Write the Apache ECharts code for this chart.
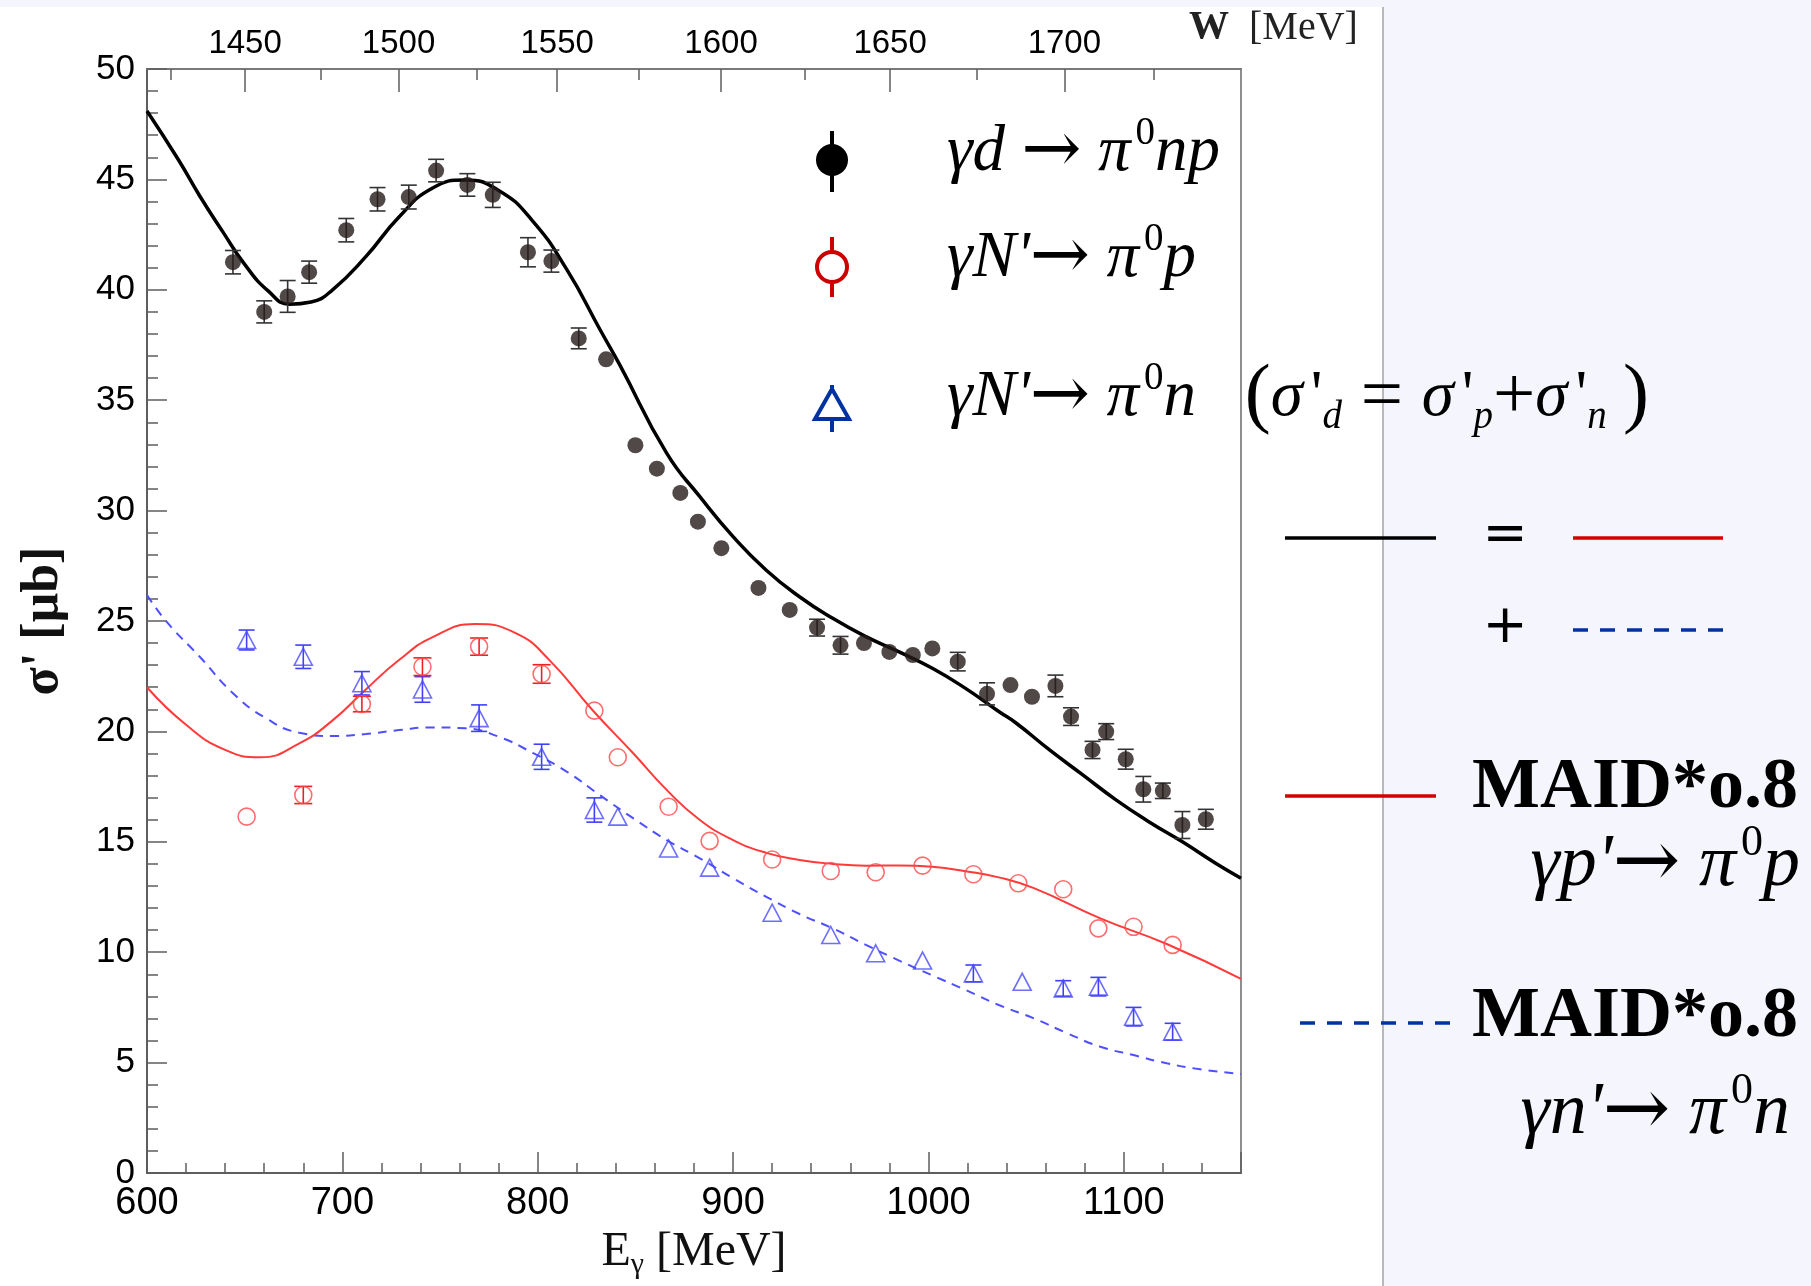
<!DOCTYPE html>
<html>
<head>
<meta charset="utf-8">
<script src="https://cdn.jsdelivr.net/npm/echarts@6/dist/echarts.min.js"></script>
<style>
html, body { margin: 0; padding: 0; background: #fff; }
#view { width: 1811px; height: 1286px; }
</style>
</head>
<body>
<div id="view"></div>
<script>
var myChart = echarts.init(document.getElementById('view'));

// gamma d -> pi0 n p  (black dots)
var egD = [644, 660, 672, 683, 702, 718, 734, 748, 764, 777,
           795, 807, 821, 835, 850, 861, 873, 882, 894, 913,
           929, 943, 955, 967, 980, 992, 1002, 1015, 1030, 1042,
           1053, 1065, 1073, 1084, 1091, 1101, 1110, 1120, 1130, 1142];
var sigD = [41.25, 39.0, 39.7, 40.8, 42.7, 44.1, 44.2, 45.4, 44.75, 44.3,
            41.7, 41.3, 37.8, 36.85, 32.96, 31.9, 30.8, 29.5, 28.3, 26.5,
            25.5, 24.7, 23.9, 24.0, 23.6, 23.46, 23.76, 23.16, 21.7, 22.1,
            21.57, 22.06, 20.67, 19.16, 19.99, 18.74, 17.38, 17.31, 15.76, 16.02];
var errD = [0.53, 0.5, 0.72, 0.5, 0.53, 0.53, 0.54, 0.51, 0.51, 0.57,
            0.66, 0.5, 0.47, 0, 0, 0, 0, 0, 0, 0,
            0, 0.38, 0.4, 0, 0, 0, 0, 0.42, 0.5, 0,
            0, 0.49, 0.4, 0.39, 0.36, 0.45, 0.58, 0.35, 0.61, 0.45];

// gamma N' -> pi0 p  (red open circles)
var egP = [651, 680, 710, 741, 770, 802, 829, 841, 867, 888,
           920, 950, 973, 997, 1023, 1046, 1069, 1087, 1105, 1125];
var sigP = [16.14, 17.12, 21.24, 22.93, 23.84, 22.6, 20.94, 18.83, 16.59, 15.04,
            14.2, 13.68, 13.62, 13.92, 13.53, 13.12, 12.85, 11.08, 11.15, 10.33];
var errP = [0, 0.39, 0.35, 0.4, 0.39, 0.42, 0, 0, 0, 0,
            0, 0, 0, 0, 0, 0, 0, 0, 0, 0];

// gamma N' -> pi0 n  (blue open triangles)
var egN = [651, 680, 710, 741, 770, 802, 829, 841, 867, 888,
           920, 950, 973, 997, 1023, 1048, 1069, 1087, 1105, 1125];
var sigN = [24.14, 23.38, 22.18, 21.9, 20.6, 18.85, 16.44, 16.14, 14.7, 13.83,
            11.79, 10.78, 9.95, 9.62, 9.04, 8.66, 8.36, 8.44, 7.08, 6.4];
var errN = [0.45, 0.53, 0.53, 0.58, 0.6, 0.57, 0.55, 0, 0, 0,
            0, 0, 0, 0, 0.38, 0, 0.35, 0.42, 0.42, 0.38];

// MAID*0.8 curves
var egMaidD = [600, 616, 627, 639, 650, 662, 673, 684, 695, 712,
               729, 746, 763, 780, 797, 815, 832, 842, 866, 883,
               900, 917, 934, 951, 968, 985, 1002, 1019, 1036, 1045,
               1062, 1079, 1096, 1113, 1130, 1147, 1160];
var maidD = [48.1, 45.9, 44.25, 42.6, 41.15, 39.95, 39.35, 39.45, 40.0, 41.5,
             43.3, 44.6, 44.97, 44.5, 43.16, 40.9, 38.18, 36.6, 32.6, 30.63,
             28.82, 27.3, 26.1, 25.12, 24.29, 23.6, 22.86, 21.95, 20.9, 20.37,
             19.16, 18.03, 16.9, 15.9, 15.0, 14.03, 13.35];
var egMaidP = [600, 620, 640, 658, 678, 695, 712, 729, 746, 768,
               789, 806, 828, 849, 866, 883, 900, 917, 934, 951,
               968, 985, 1002, 1019, 1036, 1054, 1088, 1122, 1160];
var maidP = [22.0, 20.3, 19.16, 18.83, 19.46, 20.5, 21.9, 23.23, 24.26, 24.86,
             24.44, 23.23, 20.97, 19.0, 17.35, 15.99, 15.08, 14.5, 14.18, 14.0,
             13.92, 13.93, 13.87, 13.67, 13.39, 12.9, 11.53, 10.37, 8.79];
var egMaidN = [600, 610, 627, 644, 661, 678, 695, 712, 729, 746,
               763, 780, 798, 815, 832, 849, 866, 883, 900, 917,
               934, 951, 968, 985, 1002, 1019, 1036, 1054, 1071, 1088,
               1105, 1122, 1139, 1160];
var maidN = [26.18, 24.97, 23.38, 21.73, 20.59, 19.94, 19.79, 19.88, 20.06, 20.18,
             20.14, 19.76, 19.0, 18.17, 17.1, 16.06, 15.08, 14.25, 13.35, 12.51,
             11.73, 11.08, 10.33, 9.62, 8.95, 8.29, 7.61, 7.0, 6.33, 5.72,
             5.34, 4.97, 4.7, 4.48];

// top axis, W [MeV]
var wMajor = [1450, 1500, 1550, 1600, 1650, 1700];
var wMinor = [1425, 1475, 1525, 1575, 1625, 1675, 1725];
var mN = 938.9;
function wToE(w) { return (w * w - mN * mN) / (2 * mN); }
function eToW(e) { return Math.round(Math.sqrt(mN * mN + 2 * mN * e)); }

function pairs(xs, ys) {
    return xs.map(function (x, i) { return [x, ys[i]]; });
}
function bars(xs, ys, es) {
    var out = [];
    for (var i = 0; i < xs.length; i++) {
        if (es[i] > 0) out.push([xs[i], ys[i] - es[i], ys[i] + es[i]]);
    }
    return out;
}
function errorSeries(data, color, half) {
    return {
        type: 'custom',
        data: data,
        z: 3,
        encode: { x: 0, y: [1, 2] },
        renderItem: function (params, api) {
            var top = api.coord([api.value(0), api.value(2)]);
            var bot = api.coord([api.value(0), api.value(1)]);
            var st = { stroke: color, lineWidth: 1.6 };
            return {
                type: 'group',
                children: [
                    { type: 'line', shape: { x1: top[0], y1: top[1], x2: bot[0], y2: bot[1] }, style: st },
                    { type: 'line', shape: { x1: top[0] - half, y1: top[1], x2: top[0] + half, y2: top[1] }, style: st },
                    { type: 'line', shape: { x1: bot[0] - half, y1: bot[1], x2: bot[0] + half, y2: bot[1] }, style: st }
                ]
            };
        }
    };
}

var serif = '"Liberation Serif", "DejaVu Serif", serif';
var sans = '"Liberation Sans", Arial, sans-serif';

function formulaRich(size) {
    var lh = Math.round(size * 1.2);
    return {
        m: { fontFamily: serif, fontStyle: 'italic', fontSize: size, lineHeight: lh, fill: '#000' },
        u: { fontFamily: serif, fontSize: size, lineHeight: lh, fill: '#000' },
        op: { fontFamily: serif, fontSize: Math.round(size * 1.15), lineHeight: lh, fill: '#000' },
        ar: { fontFamily: '"DejaVu Serif", serif', fontSize: Math.round(size * 1.1), lineHeight: lh, fill: '#000' },
        ap: { fontFamily: serif, fontSize: size, lineHeight: lh, padding: [0, 0, 0, 8], fill: '#000' },
        pa: { fontFamily: serif, fontSize: Math.round(size * 1.2), lineHeight: lh, fill: '#000' },
        s: { fontFamily: serif, fontSize: Math.round(size * 0.6), lineHeight: Math.round(size * 0.4), padding: [0, 0, 0, 5], verticalAlign: 'top', fill: '#000' },
        b: { fontFamily: serif, fontStyle: 'italic', fontSize: Math.round(size * 0.6), lineHeight: Math.round(size * 0.45), verticalAlign: 'bottom', fill: '#000' }
    };
}
function formula(str, x, y, align, size) {
    return {
        type: 'text', x: x, y: y, z: 20,
        style: { text: str, align: align, verticalAlign: 'middle', rich: formulaRich(size) }
    };
}
function seg(x1, y1, x2, y2, color, dash) {
    return {
        type: 'line', z: 20,
        shape: { x1: x1, y1: y1, x2: x2, y2: y2 },
        style: { stroke: color, lineWidth: 3.5, lineDash: dash || null }
    };
}
function sign(ch, x, y) {
    return {
        type: 'text', x: x, y: y, z: 20,
        style: { text: ch, font: '54px "DejaVu Sans", sans-serif', align: 'center', verticalAlign: 'middle', fill: '#000' }
    };
}

var graphics = [
    // page panels
    { type: 'rect', z: -10, shape: { x: 1384, y: 0, width: 427, height: 1286 }, style: { fill: '#f5f6fd' } },
    { type: 'rect', z: -10, shape: { x: 0, y: 0, width: 1811, height: 7 }, style: { fill: '#f5f6fd' } },
    { type: 'line', z: -9, shape: { x1: 1383, y1: 7, x2: 1383, y2: 1286 }, style: { stroke: '#b9b9b9', lineWidth: 2 } },

    // top axis title
    {
        type: 'text', x: 1189, y: 28, z: 20,
        style: {
            text: '{w|W}{t|  [MeV]}', verticalAlign: 'middle', align: 'left',
            rich: {
                w: { fontFamily: serif, fontWeight: 'bold', fontSize: 40, fill: '#222' },
                t: { fontFamily: serif, fontSize: 40, fill: '#222' }
            }
        }
    },

    // legend markers
    { type: 'line', z: 20, shape: { x1: 832, y1: 131, x2: 832, y2: 192 }, style: { stroke: '#000', lineWidth: 4 } },
    { type: 'circle', z: 21, shape: { cx: 832, cy: 160, r: 16 }, style: { fill: '#000' } },
    { type: 'line', z: 20, shape: { x1: 832, y1: 237, x2: 832, y2: 297 }, style: { stroke: '#cc0000', lineWidth: 4 } },
    { type: 'circle', z: 21, shape: { cx: 832, cy: 267, r: 15 }, style: { fill: '#fff', stroke: '#cc0000', lineWidth: 4 } },
    { type: 'line', z: 20, shape: { x1: 832, y1: 385, x2: 832, y2: 432 }, style: { stroke: '#0033a0', lineWidth: 4 } },
    { type: 'polygon', z: 21, shape: { points: [[832, 389], [815, 419], [849, 419]] }, style: { fill: '#fff', stroke: '#0033a0', lineWidth: 4 } },

    // legend texts
    formula('{m|γd}{u| }{ar|→}{u| }{m|π}{s|0}{m|np}', 947, 153, 'left', 65),
    formula("{m|γN'}{ar|→}{u| }{m|π}{s|0}{m|p}", 947, 259, 'left', 65),
    formula("{m|γN'}{ar|→}{u| }{m|π}{s|0}{m|n}{u|   }{pa|(}{m|σ}{ap|'}{b|d}{op| = }{m|σ}{ap|'}{b|p}{op|+}{m|σ}{ap|'}{b|n}{u| }{pa|)}", 947, 398, 'left', 65),

    // sum relation
    seg(1285, 538, 1436, 538, '#000'),
    sign('=', 1505, 536),
    seg(1573, 538, 1723, 538, '#d40000'),
    sign('+', 1505, 628),
    seg(1573, 630, 1723, 630, '#0033a0', [15, 12]),

    // MAID lines
    seg(1285, 796, 1436, 796, '#d40000'),
    { type: 'text', x: 1472, y: 788, z: 20, style: { text: 'MAID*o.8', font: 'bold 72px ' + serif, align: 'left', verticalAlign: 'middle', fill: '#000' } },
    formula("{m|γp'}{ar|→}{u| }{m|π}{s|0}{m|p}", 1800, 866, 'right', 74),
    seg(1300, 1023, 1452, 1023, '#0033a0', [15, 12]),
    { type: 'text', x: 1472, y: 1017, z: 20, style: { text: 'MAID*o.8', font: 'bold 72px ' + serif, align: 'left', verticalAlign: 'middle', fill: '#000' } },
    formula("{m|γn'}{ar|→}{u| }{m|π}{s|0}{m|n}", 1790, 1114, 'right', 74)
];

var frameColor = '#5e5e5e';

var option = {
    animation: false,
    backgroundColor: '#ffffff',
    grid: {
        left: 147, top: 69, width: 1094, height: 1104,
        show: true, borderColor: '#8e8e8e', borderWidth: 2,
        backgroundColor: 'rgba(0,0,0,0)',
        outerBoundsMode: 'none'
    },
    xAxis: [
        {
            type: 'value', position: 'bottom', min: 600, max: 1160, interval: 100,
            name: '{e|E}{g|γ}{e| [MeV]}', nameLocation: 'middle', nameGap: 50,
            nameTextStyle: {
                rich: {
                    e: { fontFamily: serif, fontSize: 48, lineHeight: 56, color: '#111' },
                    g: { fontFamily: serif, fontSize: 30, lineHeight: 22, verticalAlign: 'bottom', color: '#111' }
                }
            },
            axisLine: { show: true, lineStyle: { color: frameColor, width: 2 } },
            axisTick: { show: true, inside: true, length: 21, lineStyle: { color: frameColor, width: 1.5 } },
            minorTick: { show: true, splitNumber: 5, length: 10, lineStyle: { color: frameColor, width: 1.5 } },
            splitLine: { show: false },
            axisLabel: {
                fontFamily: sans, fontSize: 38, color: '#000', margin: 12,
                showMaxLabel: false,
                formatter: function (v) { return String(v); }
            }
        },
        {
            type: 'value', position: 'top', min: 600, max: 1160,
            axisLine: { show: true, lineStyle: { color: '#7a7a7a', width: 2 } },
            axisTick: { show: true, inside: true, length: 23, customValues: wMajor.map(wToE), lineStyle: { color: frameColor, width: 1.5 } },
            splitLine: { show: false },
            axisLabel: {
                show: true, customValues: wMajor.map(wToE), fontFamily: sans, fontSize: 33, color: '#000', margin: 9,
                formatter: function (v) { return String(eToW(v)); }
            }
        },
        {
            type: 'value', position: 'top', min: 600, max: 1160,
            axisLine: { show: false },
            axisTick: { show: true, inside: true, length: 11, customValues: wMinor.map(wToE), lineStyle: { color: frameColor, width: 1.5 } },
            splitLine: { show: false },
            axisLabel: { show: false }
        }
    ],
    yAxis: {
        type: 'value', min: 0, max: 50, interval: 5,
        name: "σ' [μb]", nameLocation: 'middle', nameGap: 77,
        nameTextStyle: { fontFamily: serif, fontWeight: 'bold', fontSize: 52, color: '#111' },
        axisLine: { show: true, lineStyle: { color: frameColor, width: 2 } },
        axisTick: { show: true, inside: true, length: 20, lineStyle: { color: frameColor, width: 1.5 } },
        minorTick: { show: true, splitNumber: 5, length: 11, lineStyle: { color: frameColor, width: 1.5 } },
        splitLine: { show: false },
        axisLabel: { fontFamily: sans, fontSize: 35, color: '#000', margin: 12 }
    },
    series: [
        {
            name: 'MAID n', type: 'line', data: pairs(egMaidN, maidN), smooth: true, showSymbol: false, z: 2,
            lineStyle: { color: '#4f4fff', width: 2, type: [9, 7] }
        },
        {
            name: 'MAID p', type: 'line', data: pairs(egMaidP, maidP), smooth: true, showSymbol: false, z: 2,
            lineStyle: { color: '#ff3a3a', width: 2 }
        },
        {
            name: 'MAID d', type: 'line', data: pairs(egMaidD, maidD), smooth: true, showSymbol: false, z: 2,
            lineStyle: { color: '#000000', width: 3.5 }
        },
        errorSeries(bars(egN, sigN, errN), '#3f3fff', 8),
        errorSeries(bars(egP, sigP, errP), '#f02020', 9),
        errorSeries(bars(egD, sigD, errD), '#333333', 8),
        {
            name: 'n', type: 'scatter', data: pairs(egN, sigN), symbol: 'triangle', symbolSize: [18, 17], z: 4,
            itemStyle: { color: 'rgba(0,0,0,0)', borderColor: '#4a4aff', borderWidth: 1.6 }
        },
        {
            name: 'p', type: 'scatter', data: pairs(egP, sigP), symbol: 'circle', symbolSize: 17, z: 4,
            itemStyle: { color: 'rgba(0,0,0,0)', borderColor: '#ff4a4a', borderWidth: 1.6 }
        },
        {
            name: 'd', type: 'scatter', data: pairs(egD, sigD), symbol: 'circle', symbolSize: 16, z: 5,
            itemStyle: { color: '#261a1a' }
        }
    ],
    graphic: graphics
};

myChart.setOption(option);
</script>
</body>
</html>
